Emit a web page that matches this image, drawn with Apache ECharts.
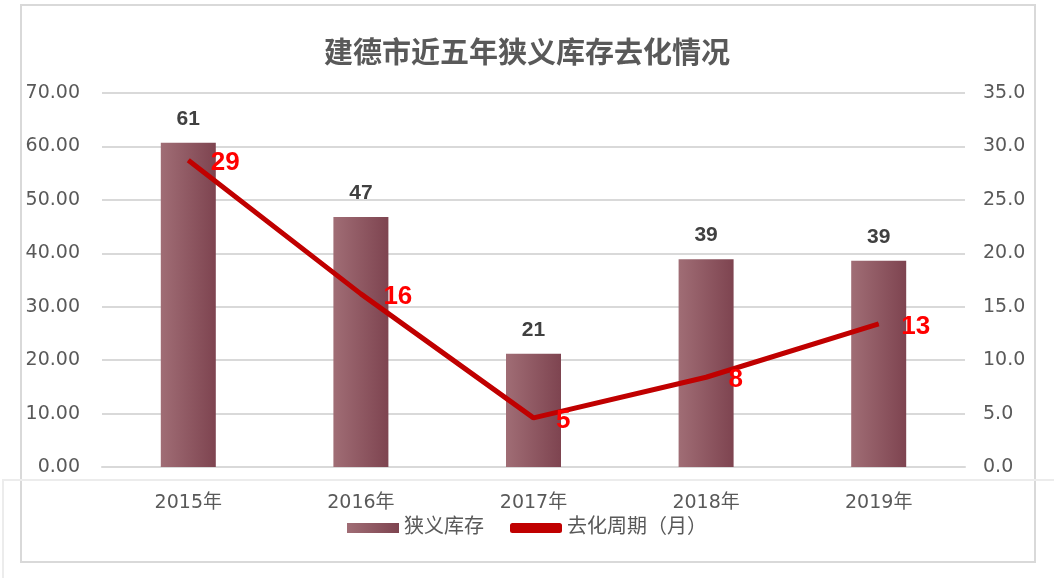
<!DOCTYPE html>
<html><head><meta charset="utf-8">
<script src="https://cdn.jsdelivr.net/npm/echarts@6/dist/echarts.min.js"></script>
<style>html,body{margin:0;padding:0;background:#fff}#c{width:1054px;height:578px}</style>
</head><body><div id="c"></div>
<script>
var categories = ['2015年','2016年','2017年','2018年','2019年'];
var inventory = [60.7, 46.8, 21.2, 38.9, 38.6];
var cycle = [28.7, 16.2, 4.6, 8.4, 13.4];
var chart = echarts.init(document.getElementById('c'));
var font = 'DejaVu Sans, Noto Sans CJK SC, sans-serif';
var boldFont = 'Liberation Sans, Arial, Noto Sans CJK SC, sans-serif';
chart.setOption({
  animation: false,
  textStyle: {fontFamily: font},
  title: {text: '建德市近五年狭义库存去化情况', left: 'center', top: 35,
    textStyle: {fontSize: 29, fontWeight: 'bold', color: '#595959', fontFamily: boldFont}},
  graphic: [
    {type: 'rect', shape: {x: 21, y: 5, width: 1014, height: 557}, style: {fill: 'none', stroke: '#d9d9d9', lineWidth: 2}, z: -10},
    {type: 'rect', shape: {x: 3, y: 480, width: 1060, height: 120}, style: {fill: 'none', stroke: '#ececec', lineWidth: 2}, z: -10}
  ],
  legend: {bottom: 35, left: 'center', itemWidth: 52, itemHeight: 10, itemGap: 26,
    textStyle: {fontSize: 20, color: '#595959', fontFamily: font},
    data: [{name: '狭义库存', icon: 'rect'}, {name: '去化周期（月）', icon: 'roundRect'}]},
  grid: {left: 102, right: 89, top: 93, bottom: 111},
  xAxis: {type: 'category', data: categories,
    axisLine: {lineStyle: {color: '#d9d9d9', width: 2}}, axisTick: {show: false},
    axisLabel: {fontSize: 19, color: '#595959', margin: 27}},
  yAxis: [
    {type: 'value', min: 0, max: 70, interval: 10,
      axisLabel: {fontSize: 19, color: '#595959', margin: 22, formatter: function(v){return v.toFixed(2);}},
      splitLine: {lineStyle: {color: '#d9d9d9', width: 2}}, axisLine: {show: false}, axisTick: {show: false}},
    {type: 'value', min: 0, max: 35, interval: 5,
      axisLabel: {fontSize: 19, color: '#595959', margin: 18, formatter: function(v){return v.toFixed(1);}},
      splitLine: {show: false}, axisLine: {show: false}, axisTick: {show: false}}
  ],
  series: [
    {name: '狭义库存', type: 'bar', data: inventory, barWidth: 55,
      itemStyle: {color: new echarts.graphic.LinearGradient(0, 0, 1, 0, [
        {offset: 0, color: '#a06d75'}, {offset: 1, color: '#7e4450'}])},
      label: {show: true, position: 'top', distance: 13, fontSize: 21, fontWeight: 'bold', color: '#404040', fontFamily: boldFont,
        formatter: function(p){return Math.round(p.value);}}},
    {name: '去化周期（月）', type: 'line', yAxisIndex: 1, data: cycle, symbol: 'circle', symbolSize: 1, showSymbol: true,
      lineStyle: {color: '#c00000', width: 5}, itemStyle: {color: '#c00000'},
      label: {show: true, position: 'right', distance: 22, offset: [0, 3], fontSize: 26, fontWeight: 'bold', color: '#ff0000', fontFamily: boldFont,
        formatter: function(p){return Math.round(p.value);}}}
  ]
});
</script></body></html>
